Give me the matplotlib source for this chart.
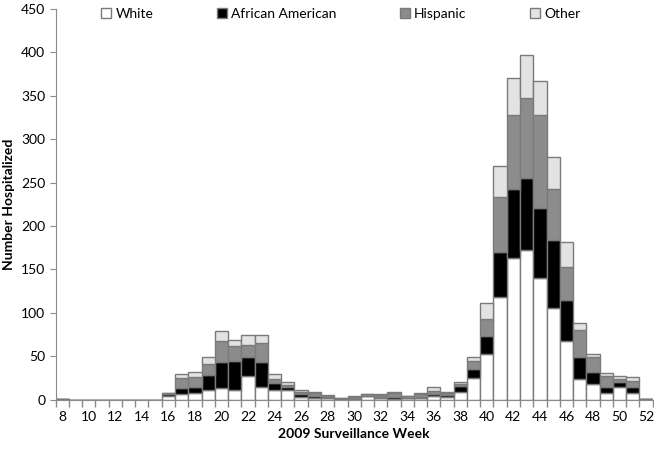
import numpy as np
import matplotlib.pyplot as plt

plt.rcParams['font.family'] = ['Lato', 'DejaVu Sans']

weeks = list(range(8, 53))

white = [1, 0, 0, 0, 0, 0, 0, 0, 4, 6, 8, 11, 13, 11, 27, 15, 11, 11, 3, 2, 2,
         1, 1, 4, 2, 1, 2, 2, 4, 3, 9, 25, 52, 118, 163, 172, 140, 105, 67, 24,
         18, 8, 14, 8, 1]
african_american = [0, 0, 0, 0, 0, 0, 0, 0, 2, 7, 7, 17, 30, 34, 22, 28, 8, 3, 3, 2, 1,
                    0, 0, 0, 1, 2, 0, 1, 2, 2, 7, 10, 21, 52, 80, 83, 81, 79, 48, 25,
                    14, 6, 6, 7, 0]
hispanic = [0, 0, 0, 0, 0, 0, 0, 0, 2, 12, 11, 13, 25, 17, 14, 22, 5, 3, 3, 4, 1,
            1, 2, 2, 2, 5, 2, 4, 4, 3, 2, 9, 20, 63, 85, 93, 107, 59, 38, 31,
            17, 13, 4, 7, 0]
other = [0, 0, 0, 0, 0, 0, 0, 0, 0, 5, 6, 8, 11, 7, 12, 9, 6, 3, 2, 1, 1,
         0, 1, 1, 1, 1, 0, 1, 5, 1, 2, 5, 18, 36, 43, 49, 39, 36, 28, 8,
         3, 4, 3, 4, 0]

series = [('White', white, 'white'),
          ('African American', african_american, 'black'),
          ('Hispanic', hispanic, '#8c8c8c'),
          ('Other', other, '#e3e3e3')]

fig, ax = plt.subplots(figsize=(6.54, 4.49), dpi=100)
fig.subplots_adjust(left=0.085, right=0.998, top=0.98, bottom=0.11)

x = np.arange(len(weeks))
bottom = np.zeros(len(weeks))
for name, vals, col in series:
    ax.bar(x, vals, width=1.0, bottom=bottom, color=col, edgecolor='#7a7a7a',
           linewidth=1.0, label=name)
    bottom += np.array(vals)

ax.set_xlim(-0.5, len(weeks) - 0.5)
ax.set_ylim(0, 450)
ax.set_yticks(np.arange(0, 451, 50))
ax.set_xticks(x[::2])
ax.set_xticklabels([str(w) for w in weeks[::2]])
ax.set_xticks(np.arange(-0.5, len(weeks), 1), minor=True)
ax.tick_params(axis='x', which='major', length=0, pad=8, labelsize=10)
ax.tick_params(axis='x', which='minor', length=5, color='#8a8a8a', width=1)
ax.tick_params(axis='y', length=4, color='#8a8a8a', labelsize=10)

for s in ['top', 'right']:
    ax.spines[s].set_visible(False)
for s in ['left', 'bottom']:
    ax.spines[s].set_color('#8a8a8a')

ax.set_xlabel('2009 Surveillance Week', fontweight='bold', fontsize=10)
ax.set_ylabel('Number Hospitalized', fontweight='bold', fontsize=10)

ax.legend(loc='upper center', bbox_to_anchor=(0.478, 1.035), ncol=4, frameon=False,
          fontsize=10, handlelength=0.7, handleheight=0.7, handletextpad=0.3,
          columnspacing=4.6)

plt.savefig('out.png', dpi=100)
